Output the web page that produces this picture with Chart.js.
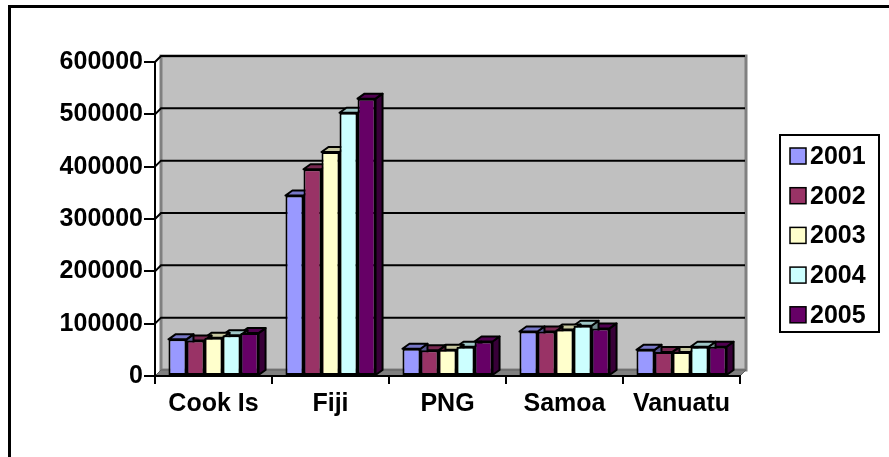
<!DOCTYPE html>
<html>
<head>
<meta charset="utf-8">
<script src="https://cdn.jsdelivr.net/npm/chart.js@4.4.1/dist/chart.umd.min.js"></script>
<style>
  body { margin: 0; background: #fff; }
  #box { width: 889px; height: 457px; position: relative; }
</style>
</head>
<body>
<div id="box"><canvas id="myChart"></canvas></div>
<script>
// values
var categories = ['Cook Is', 'Fiji', 'PNG', 'Samoa', 'Vanuatu'];
var years = ['2001', '2002', '2003', '2004', '2005'];
var y2001 = [70000, 345000, 52000, 85000, 50000];
var y2002 = [68000, 395000, 49000, 85000, 46000];
var y2003 = [73000, 428000, 50000, 89000, 46000];
var y2004 = [78000, 503000, 56000, 96000, 56000];
var y2005 = [82000, 530000, 66000, 91000, 56000];
var yTicks = [0, 100000, 200000, 300000, 400000, 500000, 600000];

var colors = ['#9999FF', '#993366', '#FFFFCC', '#CCFFFF', '#660066'];
var FONT = "'Liberation Sans', Arial, sans-serif";

function shade(hex, f) {
  var n = parseInt(hex.slice(1), 16);
  var r = Math.round(((n >> 16) & 255) * f), g = Math.round(((n >> 8) & 255) * f), b = Math.round((n & 255) * f);
  return 'rgb(' + r + ',' + g + ',' + b + ')';
}

// wall depth and bar depth
var WX = 6, WY = 6, BX = 7, BY = 5;

var walls = {
  id: 'walls',
  beforeDraw: function(chart) {
    var ctx = chart.ctx, a = chart.chartArea, ys = chart.scales.y;
    ctx.save();
    // outer frame
    ctx.strokeStyle = '#000';
    ctx.lineWidth = 3;
    ctx.strokeRect(9.5, 6.5, 1000, 1000);
    // back wall
    ctx.fillStyle = '#C0C0C0';
    ctx.fillRect(a.left + WX, a.top - WY, a.right - a.left, a.bottom - a.top);
    ctx.strokeStyle = '#808080';
    ctx.lineWidth = 3;
    ctx.strokeRect(a.left + WX, a.top - WY, a.right - a.left, a.bottom - a.top);
    // floor
    ctx.beginPath();
    ctx.moveTo(a.left, a.bottom);
    ctx.lineTo(a.left + WX, a.bottom - WY);
    ctx.lineTo(a.right + WX, a.bottom - WY);
    ctx.lineTo(a.right, a.bottom);
    ctx.closePath();
    ctx.fillStyle = '#808080';
    ctx.fill();
    ctx.strokeStyle = '#606060';
    ctx.lineWidth = 1;
    ctx.stroke();
    // gridlines on the wall
    ctx.strokeStyle = '#000';
    ctx.lineWidth = 2;
    yTicks.forEach(function(v) {
      if (v === 0) return;
      var y = ys.getPixelForValue(v);
      ctx.beginPath();
      ctx.moveTo(a.left, y);
      ctx.lineTo(a.left + WX, y - WY);
      ctx.lineTo(a.right + WX - 1, y - WY);
      ctx.stroke();
    });
    ctx.restore();
  },
  beforeDatasetsDraw: function(chart) {
    var ctx = chart.ctx;
    var bars = [];
    chart.data.datasets.forEach(function(ds, i) {
      chart.getDatasetMeta(i).data.forEach(function(el) {
        bars.push({ el: el, c: ds.backgroundColor });
      });
    });
    bars.sort(function(p, q) { return q.el.x - p.el.x; });
    ctx.save();
    ctx.strokeStyle = '#000';
    ctx.lineWidth = 2;
    ctx.lineJoin = 'round';
    bars.forEach(function(b) {
      var el = b.el, l = el.x - el.width / 2, r = el.x + el.width / 2, t = el.y, bt = el.base;
      // side
      ctx.beginPath();
      ctx.moveTo(r, bt);
      ctx.lineTo(r + BX, bt - BY);
      ctx.lineTo(r + BX, t - BY);
      ctx.lineTo(r, t);
      ctx.closePath();
      ctx.fillStyle = shade(b.c, 0.55);
      ctx.fill();
      ctx.stroke();
      // top
      ctx.beginPath();
      ctx.moveTo(l, t);
      ctx.lineTo(l + BX, t - BY);
      ctx.lineTo(r + BX, t - BY);
      ctx.lineTo(r, t);
      ctx.closePath();
      ctx.fillStyle = shade(b.c, 0.78);
      ctx.fill();
      ctx.stroke();
    });
    ctx.restore();
  },
  afterDraw: function(chart) {
    // legend with box
    var ctx = chart.ctx;
    ctx.save();
    ctx.fillStyle = '#fff';
    ctx.fillRect(780, 135, 99, 197);
    ctx.strokeStyle = '#000';
    ctx.lineWidth = 2;
    ctx.strokeRect(780, 135, 99, 197);
    ctx.font = 'bold 25px ' + FONT;
    ctx.textBaseline = 'middle';
    chart.data.datasets.forEach(function(ds, i) {
      var cy = 156 + i * 39.7;
      ctx.fillStyle = ds.backgroundColor;
      ctx.fillRect(790, cy - 8, 16, 16);
      ctx.lineWidth = 1.5;
      ctx.strokeRect(790, cy - 8, 16, 16);
      ctx.fillStyle = '#000';
      ctx.fillText(ds.label, 810, cy + 1);
    });
    ctx.restore();
  }
};

var ctx = document.getElementById('myChart');
var series = [y2001, y2002, y2003, y2004, y2005];

var myChart = new Chart(ctx, {
  type: 'bar',
  data: {
    labels: categories,
    datasets: series.map(function(s, i) {
      return {
        label: years[i],
        data: s,
        backgroundColor: colors[i],
        borderColor: '#000',
        borderWidth: 2,
        borderSkipped: false,
        categoryPercentage: 0.77,
        barPercentage: 1.0
      };
    })
  },
  options: {
    responsive: true,
    maintainAspectRatio: false,
    animation: false,
    layout: { padding: { left: 0, right: 149, top: 62, bottom: 0 } },
    plugins: { legend: { display: false }, tooltip: { enabled: false } },
    scales: {
      x: {
        grid: { offset: true, drawOnChartArea: false, drawTicks: true, tickLength: 8, color: '#000', lineWidth: 2 },
        border: { display: true, color: '#000', width: 2 },
        ticks: { color: '#000', font: { family: FONT, size: 25, weight: 'bold' }, padding: 5, maxRotation: 0, autoSkip: false },
        afterFit: function(s) { s.height = 81; }
      },
      y: {
        min: 0,
        max: 600000,
        afterBuildTicks: function(s) { s.ticks = yTicks.map(function(v) { return { value: v }; }); },
        grid: { drawOnChartArea: false, drawTicks: true, tickLength: 11, color: '#000', lineWidth: 2 },
        border: { display: true, color: '#000', width: 2 },
        ticks: { color: '#000', font: { family: FONT, size: 25, weight: 'bold' }, padding: 1, callback: function(v) { return String(v); } },
        afterFit: function(s) { s.width = 155; }
      }
    }
  },
  plugins: [walls]
});
</script>
</body>
</html>
